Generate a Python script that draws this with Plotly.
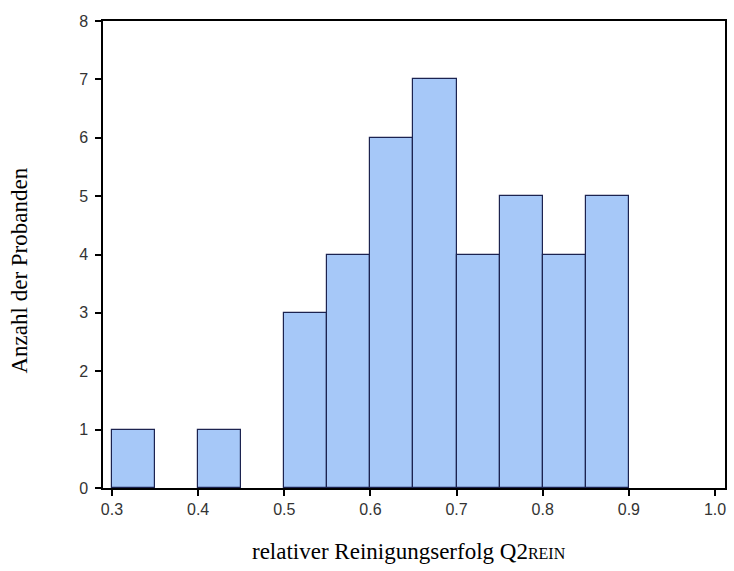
import plotly.graph_objects as go

bin_left = [0.30, 0.35, 0.40, 0.45, 0.50, 0.55, 0.60, 0.65, 0.70, 0.75, 0.80, 0.85]
counts = [1, 0, 1, 0, 3, 4, 6, 7, 4, 5, 4, 5]
bin_width = 0.05
x_ticks = [0.3, 0.4, 0.5, 0.6, 0.7, 0.8, 0.9, 1.0]
y_ticks = [0, 1, 2, 3, 4, 5, 6, 7, 8]

# only non-empty bins are drawn (empty bins show no outline in the reference)
xs = [b + bin_width / 2 for b, c in zip(bin_left, counts) if c > 0]
ys = [c for c in counts if c > 0]

fig = go.Figure(go.Bar(
    x=xs, y=ys, width=[bin_width] * len(xs),
    marker=dict(color="#A6C8F8", line=dict(color="#1C2350", width=1.2)),
))

title_font = dict(family="Liberation Serif, Times New Roman", size=23, color="black")

fig.update_layout(
    width=734, height=571,
    margin=dict(l=103, r=7, t=21, b=83),
    plot_bgcolor="white", paper_bgcolor="white",
    showlegend=False, bargap=0,
    font=dict(family="Liberation Sans, Arial", size=16, color="#333333"),
    annotations=[
        dict(text='relativer Reinigungserfolg Q2<span style="font-size:16px">REIN</span>',
             xref="paper", yref="paper", x=0.492, y=-0.137,
             xanchor="center", yanchor="middle", showarrow=False, font=title_font),
        dict(text="Anzahl der Probanden", textangle=-90,
             xref="paper", yref="paper", x=-0.134, y=0.465,
             xanchor="center", yanchor="middle", showarrow=False, font=title_font),
    ],
)
fig.update_xaxes(
    range=[0.2896, 1.0116], tickvals=x_ticks, ticktext=[f"{v:.1f}" for v in x_ticks],
    ticks="outside", ticklen=6, tickcolor="black", tickwidth=1.5,
    showline=True, linecolor="black", linewidth=1.5, mirror=True,
    showgrid=False, zeroline=False,
)
fig.update_yaxes(
    range=[0, 8], tickvals=y_ticks,
    ticks="outside", ticklen=6, tickcolor="black", tickwidth=1.5,
    ticklabelstandoff=4,
    showline=True, linecolor="black", linewidth=1.5, mirror=True,
    showgrid=False, zeroline=False,
)

fig.write_html("out.html")
